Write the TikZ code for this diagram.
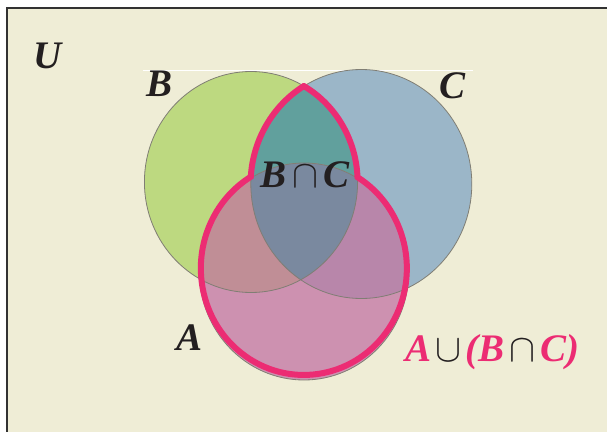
\RequirePackage{fix-cm}
\documentclass[tikz,border=0pt]{standalone}
\usepackage{fontspec}
\setmainfont{Liberation Serif}
\definecolor{venncolor0001}{RGB}{239,237,214}
\definecolor{venncolor0002}{RGB}{189,217,128}
\definecolor{venncolor0003}{RGB}{155,182,200}
\definecolor{venncolor0004}{RGB}{97,160,157}
\definecolor{venncolor0005}{RGB}{205,145,176}
\definecolor{venncolor0006}{RGB}{192,142,150}
\definecolor{venncolor0007}{RGB}{184,134,170}
\definecolor{venncolor0008}{RGB}{122,137,159}
\definecolor{venncolor0009}{RGB}{236,44,115}
\definecolor{venncolor0010}{RGB}{35,31,32}
\definecolor{venncolor0011}{RGB}{128,126,116}
\definecolor{venncolor0012}{RGB}{50,50,50}
\begin{document}
\begin{tikzpicture}[yscale=-1
,vstyle0/.style={color=venncolor0012,fill=venncolor0001,line width=1.2pt}
,vstyle1/.style={color=venncolor0011,line width=0.8pt}
,vstyle2/.style={color=venncolor0009,line width=6pt,line join=miter}
,vstyle3/.style={color=white,line width=0.6pt}
,vlabel/.style={color=venncolor0010,inner sep=0,font=\fontsize{39}{40}\selectfont\bfseries\itshape}
]
\useasboundingbox (0pt,0pt) rectangle (607pt,431pt);
\fill[white] (0pt,0pt) rectangle (607pt,431pt);
\draw[vstyle0] (7pt,8pt) rectangle (615pt,440pt);
\draw[vstyle3] (143pt,70pt) -- (473pt,70pt);
% B and C
\fill[venncolor0002] (251pt,182pt) ellipse (106.6pt and 110.5pt);
\fill[venncolor0003] (361.3pt,184pt) ellipse (110.5pt and 114.5pt);
\begin{scope}
\clip (251pt,182pt) ellipse (106.6pt and 110.5pt);
\fill[venncolor0004] (361.3pt,184pt) ellipse (110.5pt and 114.5pt);
\end{scope}
% A
\fill[venncolor0005] (304pt,271.5pt) ellipse (104.7pt and 108.5pt);
\begin{scope}
\clip (304pt,271.5pt) ellipse (104.7pt and 108.5pt);
\fill[venncolor0006] (251pt,182pt) ellipse (106.6pt and 110.5pt);
\fill[venncolor0007] (361.3pt,184pt) ellipse (110.5pt and 114.5pt);
\clip (251pt,182pt) ellipse (106.6pt and 110.5pt);
\fill[venncolor0008] (361.3pt,184pt) ellipse (110.5pt and 114.5pt);
\end{scope}
\draw[vstyle1] (251pt,182pt) ellipse (106.6pt and 110.5pt);
\draw[vstyle1] (361.3pt,184pt) ellipse (110.5pt and 114.5pt);
\draw[vstyle1] (304pt,271.5pt) ellipse (104.7pt and 108.5pt);
% A union (B cap C)
\draw[vstyle2] (303.98pt,86.11pt) arc[start angle=-60.2,end angle=-2.5,x radius=106.6pt,y radius=110.5pt]
  arc[start angle=-58.6,end angle=239,x radius=103pt,y radius=106.7pt]
  arc[start angle=183.6,end angle=238.75,x radius=110.5pt,y radius=114.5pt] -- cycle;
\node (labelU) at (48pt,56pt)[vlabel]{U};
\node (labelB) at (160pt,84pt)[vlabel]{B};
\node (labelC) at (452pt,86pt)[vlabel]{C};
\node (labelA) at (190pt,338pt)[vlabel]{A};
\node (labelBC) at (305pt,175pt)[vlabel]{B\kern5pt$\cap$\kern5pt C};
\node (labelUnion) at (492pt,352pt)[vlabel,color=venncolor0009]{A\kern4pt{\color{venncolor0010}$\cup$}\kern4pt(B\kern5pt{\color{venncolor0010}$\cap$}\kern5pt C)};
\end{tikzpicture}
\end{document}
